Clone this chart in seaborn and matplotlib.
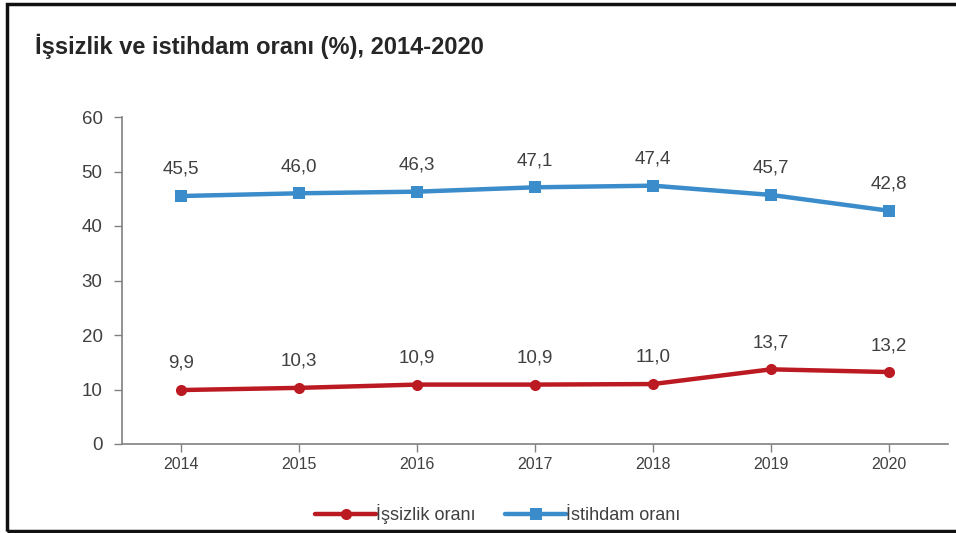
import matplotlib
matplotlib.use("Agg")
import matplotlib.pyplot as plt
from matplotlib.patches import Rectangle
import pandas as pd
import seaborn as sns

years = ["2014", "2015", "2016", "2017", "2018", "2019", "2020"]
issizlik = [9.9, 10.3, 10.9, 10.9, 11.0, 13.7, 13.2]
istihdam = [45.5, 46.0, 46.3, 47.1, 47.4, 45.7, 42.8]
series_names = ["İşsizlik oranı", "İstihdam oranı"]

df = pd.DataFrame({
    "yil": years * 2,
    "oran": issizlik + istihdam,
    "seri": [series_names[0]] * len(years) + [series_names[1]] * len(years),
})

sns.set_style("white")
plt.rcParams["font.family"] = ["Liberation Sans", "DejaVu Sans"]

fig = plt.figure(figsize=(9.56, 5.33), dpi=100)
ax = fig.add_axes([122 / 956, 1 - 444 / 533, (948 - 122) / 956, (444 - 117) / 533])

colors = {series_names[0]: "#BC1A22", series_names[1]: "#3A8CCB"}
sns.lineplot(data=df, x="yil", y="oran", hue="seri", style="seri",
             palette=colors, markers={series_names[0]: "o", series_names[1]: "s"},
             dashes=False, linewidth=3.2, markersize=8, markeredgewidth=0,
             sort=False, ax=ax)

# value labels
for i, (a, b) in enumerate(zip(issizlik, istihdam)):
    for v in (a, b):
        ax.annotate(f"{v:.1f}".replace(".", ","), (i, v), xytext=(0, 13),
                    textcoords="offset points", ha="center", va="bottom",
                    fontsize=13.5, color="#404040")

ax.set_xlim(-0.5, 6.5)
ax.set_ylim(0, 60)
ax.set_yticks(range(0, 61, 10))
ax.set_xlabel("")
ax.set_ylabel("")
for s in ("top", "right"):
    ax.spines[s].set_visible(False)
for s in ("left", "bottom"):
    ax.spines[s].set_color("#808080")
    ax.spines[s].set_linewidth(1.2)
ax.tick_params(axis="both", colors="#808080", labelcolor="#404040",
               labelsize=11.5, length=6, width=1, direction="out")
ax.tick_params(axis="y", labelsize=13.5, pad=8)
ax.yaxis.set_ticks_position("left")
ax.xaxis.set_ticks_position("bottom")

leg = ax.legend(loc="upper center", bbox_to_anchor=(0.455, -0.135), ncol=2,
                frameon=False, fontsize=13, handlelength=3.4,
                handletextpad=0.0, columnspacing=1.6)
for t in leg.get_texts():
    t.set_color("#404040")

fig.text(35 / 956, 1 - 46 / 533, "İşsizlik ve istihdam oranı (%), 2014-2020",
         fontsize=17, fontweight="bold", color="#262626", va="center", ha="left")

fig.patches.append(Rectangle((7 / 956, 2 / 533), 1.1, 1 - 6 / 533,
                             transform=fig.transFigure, fill=False,
                             edgecolor="#111111", linewidth=2.5, clip_on=False))

fig.savefig("out.png", dpi=100)
